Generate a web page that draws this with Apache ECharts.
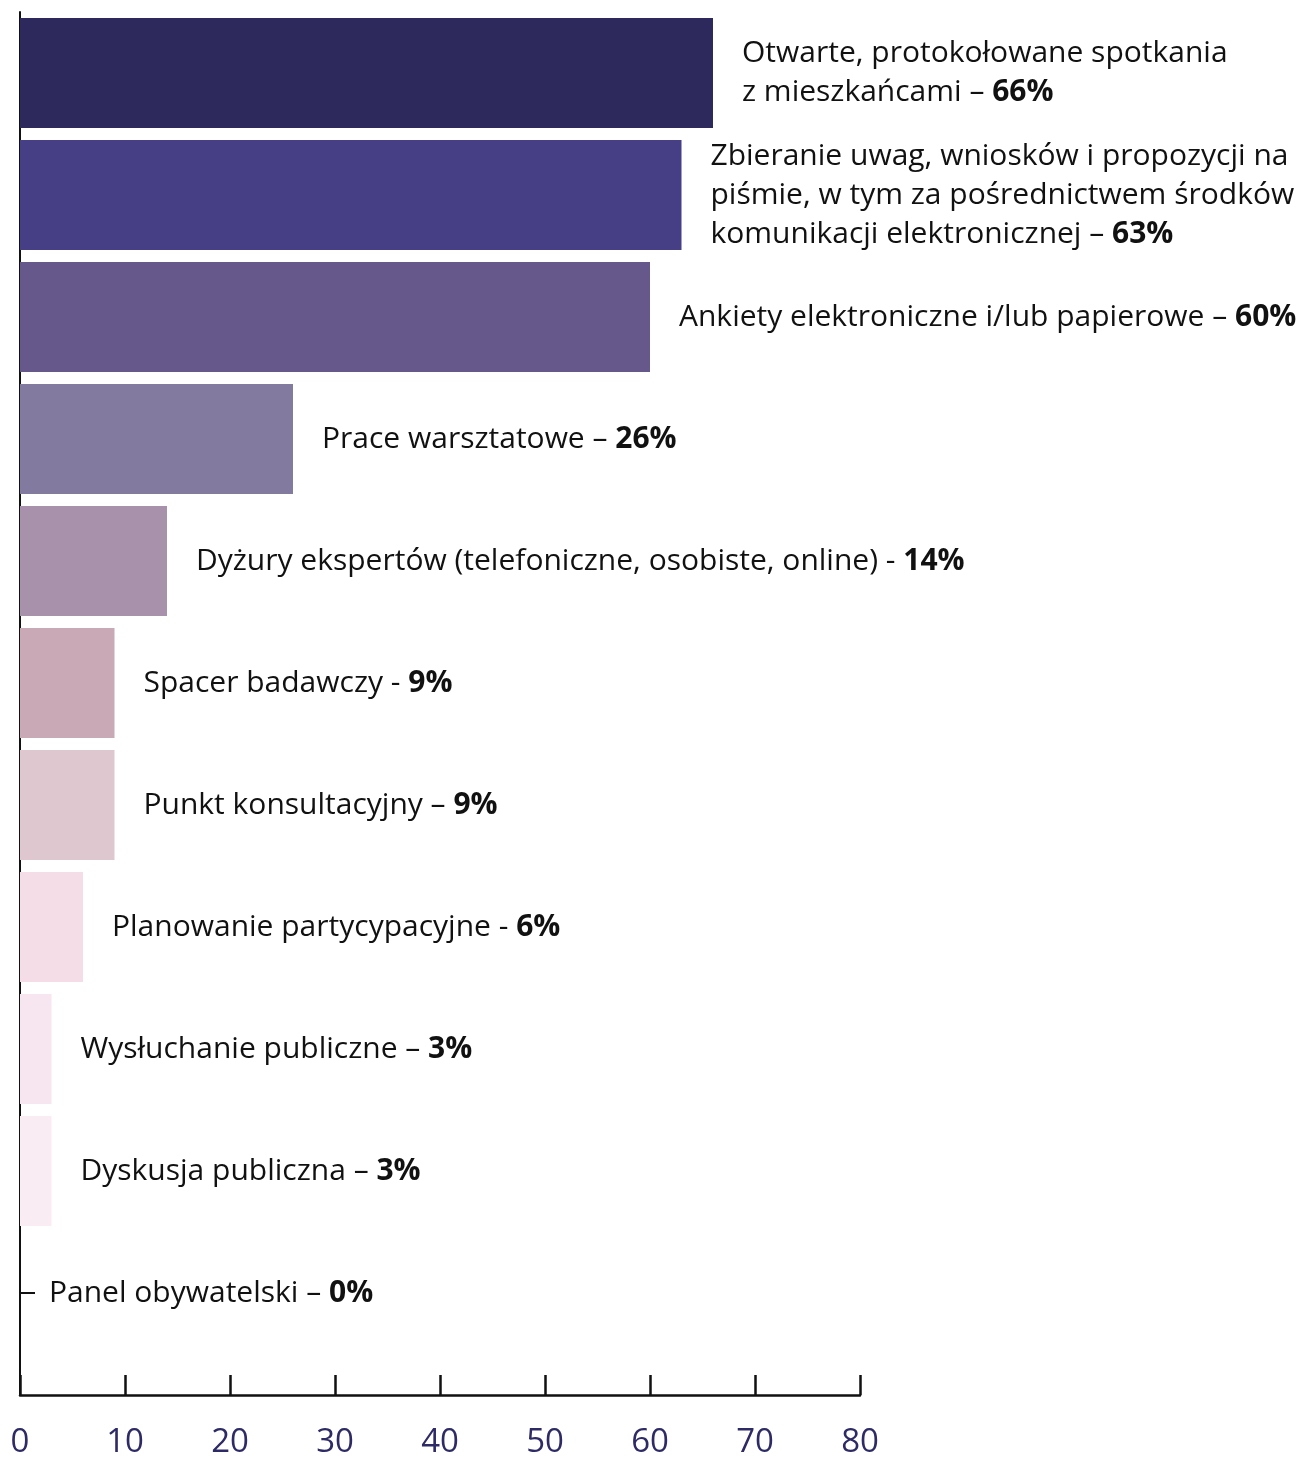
<!DOCTYPE html>
<html>
<head>
<meta charset="utf-8">
<script src="https://cdn.jsdelivr.net/npm/echarts@6/dist/echarts.min.js"></script>
<style>
  html, body { margin: 0; padding: 0; background: #ffffff; }
  #chart { width: 1301px; height: 1459px; }
</style>
</head>
<body>
<div id="chart"></div>
<script>
// Forms of public consultation and the share of municipalities using each
const categories = [
  'Otwarte, protokołowane spotkania\nz mieszkańcami',
  'Zbieranie uwag, wniosków i propozycji na\npiśmie, w tym za pośrednictwem środków\nkomunikacji elektronicznej',
  'Ankiety elektroniczne i/lub papierowe',
  'Prace warsztatowe',
  'Dyżury ekspertów (telefoniczne, osobiste, online)',
  'Spacer badawczy',
  'Punkt konsultacyjny',
  'Planowanie partycypacyjne',
  'Wysłuchanie publiczne',
  'Dyskusja publiczna',
  'Panel obywatelski'
];
const separators = ['–', '–', '–', '–', '-', '-', '–', '-', '–', '–', '–'];
const values = [66, 63, 60, 26, 14, 9, 9, 6, 3, 3, 0];
const barColors = [
  '#2d295c', '#463f86', '#67588c', '#827a9f', '#a891aa',
  '#c9a9b5', '#dfc7d0', '#f4dde6', '#f7e5ef', '#f9ecf3', '#f9ecf3'
];
const xTicks = [0, 10, 20, 30, 40, 50, 60, 70, 80];

const FONT = '"Open Sans", "Noto Sans", sans-serif';
const LEFT = 20, WIDTH = 840, TOP = 12;

const chart = echarts.init(document.getElementById('chart'), null, { renderer: 'canvas' });

chart.setOption({
  animation: false,
  backgroundColor: '#ffffff',
  grid: [
    // bars
    { left: LEFT, top: TOP, width: WIDTH, height: 1342 },
    // frame axes
    { left: LEFT, top: TOP, width: WIDTH, height: 1386 }
  ],
  xAxis: [
    {
      gridIndex: 0, type: 'value', min: 0, max: 80, interval: 10,
      show: false
    },
    {
      gridIndex: 1, type: 'value', min: xTicks[0], max: xTicks[xTicks.length - 1], interval: 10,
      axisLine: { show: true, lineStyle: { color: '#111111', width: 2.5 } },
      axisTick: { show: true, inside: true, length: 20, lineStyle: { color: '#111111', width: 2.5 } },
      axisLabel: {
        show: true, margin: 31, color: '#2d2a66',
        fontFamily: FONT, fontSize: 33,
        formatter: v => String(v)
      },
      splitLine: { show: false }
    }
  ],
  yAxis: [
    {
      gridIndex: 0, type: 'category', data: categories, inverse: true,
      axisLine: { show: false },
      axisLabel: { show: false },
      axisTick: {
        show: true, inside: true, length: 15, alignWithLabel: true,
        interval: (i) => values[i] === 0,
        lineStyle: { color: '#111111', width: 2 }
      },
      splitLine: { show: false }
    },
    {
      gridIndex: 1, type: 'value', min: 0, max: 1,
      axisLine: { show: true, lineStyle: { color: '#111111', width: 2 } },
      axisTick: { show: false },
      axisLabel: { show: false },
      splitLine: { show: false }
    }
  ],
  series: [
    {
      type: 'bar',
      xAxisIndex: 0, yAxisIndex: 0,
      barWidth: 110,
      data: values.map((v, i) => ({
        value: v,
        itemStyle: { color: barColors[i] }
      })),
      label: {
        show: true,
        position: 'right',
        distance: 29,
        formatter: (p) => {
          const lines = categories[p.dataIndex].split('\n');
          const last = lines.pop();
          const head = lines.map(l => '{n|' + l + '}').join('\n');
          const tail = '{n|' + last + ' ' + separators[p.dataIndex] + ' }{b|' + p.value + '%}';
          return head ? head + '\n' + tail : tail;
        },
        rich: {
          n: { fontFamily: FONT, fontSize: 30, color: '#111111', lineHeight: 39 },
          b: { fontFamily: FONT, fontSize: 30, fontWeight: 'bold', color: '#111111', lineHeight: 39 }
        }
      }
    }
  ]
});
</script>
</body>
</html>
